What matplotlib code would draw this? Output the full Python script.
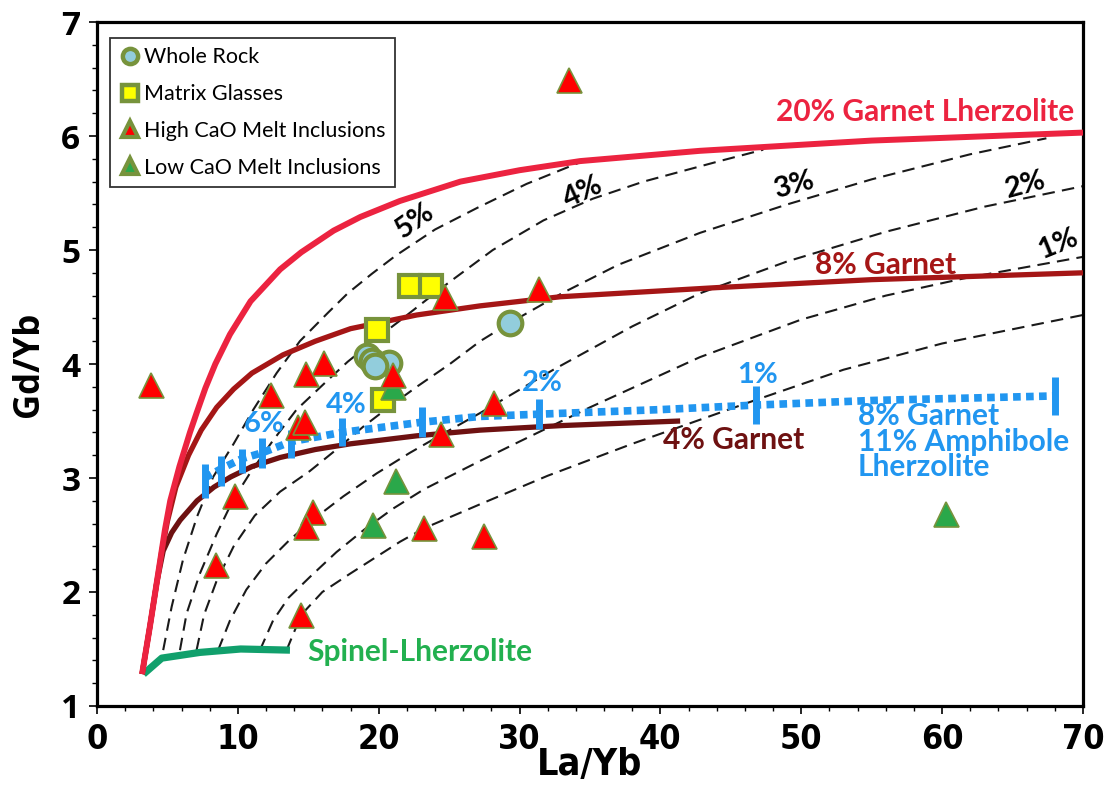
import matplotlib
matplotlib.use('Agg')
import matplotlib.pyplot as plt
import matplotlib.font_manager as fm
from matplotlib.font_manager import FontProperties
from matplotlib.lines import Line2D
from matplotlib.ticker import MultipleLocator

# ---------------- data ----------------
garnet20_x = [3.2, 3.76, 4.24, 4.83, 5.2, 5.85, 6.6, 7.07, 7.7, 8.4, 9.44, 10.9, 13.0, 14.5, 16.8, 18.7, 21.5, 25.8, 30.0, 34.3, 42.8, 55.0, 70.0]
garnet20_y = [1.28, 1.70, 2.08, 2.55, 2.80, 3.10, 3.40, 3.57, 3.79, 4.00, 4.26, 4.55, 4.83, 4.98, 5.17, 5.29, 5.43, 5.60, 5.70, 5.78, 5.87, 5.96, 6.03]

garnet8_x = [3.2, 3.76, 4.24, 4.6, 5.0, 5.6, 6.5, 7.4, 8.5, 9.7, 11.0, 13.2, 15.5, 18.0, 22.7, 27.2, 32.9, 44.0, 55.0, 70.0]
garnet8_y = [1.28, 1.70, 2.08, 2.36, 2.62, 2.92, 3.20, 3.42, 3.62, 3.78, 3.92, 4.08, 4.20, 4.31, 4.43, 4.51, 4.59, 4.67, 4.74, 4.80]

garnet4_x = [3.2, 3.76, 4.24, 4.7, 5.3, 5.9, 7.1, 8.3, 9.5, 11.0, 13.0, 15.5, 18.0, 22.7, 27.2, 33.0, 41.4]
garnet4_y = [1.28, 1.70, 2.08, 2.36, 2.52, 2.63, 2.80, 2.92, 3.01, 3.10, 3.18, 3.25, 3.30, 3.37, 3.42, 3.46, 3.50]

spinel_x = [3.3, 4.6, 7.3, 10.2, 13.7]
spinel_y = [1.28, 1.42, 1.47, 1.50, 1.49]

amph_x = [7.65, 8.8, 10.3, 11.7, 13.8, 17.4, 23.1, 27.2, 31.4, 40.0, 46.8, 55.0, 68.0]
amph_y = [3.00, 3.08, 3.17, 3.22, 3.32, 3.40, 3.49, 3.54, 3.56, 3.60, 3.64, 3.68, 3.72]
amph_tick_x = [7.65, 8.8, 10.3, 11.7, 13.8, 17.4, 23.1, 31.4, 46.8, 68.0]
amph_tick_y = [2.97, 3.06, 3.15, 3.22, 3.30, 3.40, 3.49, 3.56, 3.64, 3.72]
amph_tick_len = [24, 21, 17, 21, 20, 20, 21, 21, 27, 28]
amph_pct_labels = ['6%', '4%', '2%', '1%']
amph_pct_x = [11.85, 17.7, 31.6, 46.9]
amph_pct_y = [3.47, 3.64, 3.83, 3.90]

melt5_x = [4.7, 5.3, 6.1, 7.1, 8.25, 9.7, 11.1, 12.75, 14.4, 16.4, 17.8, 19.5, 21.2, 24.0, 27.0, 30.5, 34.3]
melt5_y = [1.49, 1.87, 2.28, 2.66, 3.01, 3.30, 3.60, 3.92, 4.20, 4.45, 4.62, 4.79, 4.95, 5.18, 5.37, 5.58, 5.77]
melt4_x = [5.89, 6.36, 7.3, 8.5, 9.67, 10.85, 12.5, 14.17, 16.4, 17.8, 19.6, 21.5, 24.6, 28.1, 31.7, 35.2, 38.8, 44.2, 47.3]
melt4_y = [1.49, 1.81, 2.16, 2.51, 2.81, 3.04, 3.33, 3.60, 3.86, 4.02, 4.20, 4.38, 4.68, 5.00, 5.26, 5.45, 5.60, 5.78, 5.88]
melt3_x = [7.07, 7.6, 8.5, 9.7, 11.2, 13.0, 15.1, 17.0, 18.9, 20.8, 22.7, 25.05, 27.2, 29.3, 33.0, 37.0, 42.8, 49.0, 55.0, 62.0, 67.4]
melt3_y = [1.49, 1.80, 2.10, 2.40, 2.67, 2.88, 3.06, 3.25, 3.45, 3.63, 3.80, 4.00, 4.20, 4.36, 4.62, 4.87, 5.15, 5.40, 5.62, 5.84, 5.98]
melt2_x = [8.6, 9.44, 10.6, 12.0, 13.7, 15.6, 17.5, 19.85, 22.2, 24.6, 27.2, 32.4, 38.0, 42.8, 49.0, 56.0, 63.0, 70.0]
melt2_y = [1.49, 1.75, 2.02, 2.25, 2.46, 2.66, 2.84, 3.04, 3.22, 3.39, 3.57, 3.95, 4.33, 4.62, 4.90, 5.16, 5.38, 5.56]
melt1_x = [11.57, 12.5, 13.6, 15.1, 17.0, 19.0, 21.0, 23.2, 27.2, 30.0, 35.0, 42.8, 50.0, 56.0, 61.5, 70.0]
melt1_y = [1.49, 1.75, 1.95, 2.13, 2.35, 2.55, 2.73, 2.90, 3.15, 3.32, 3.62, 4.06, 4.39, 4.60, 4.75, 4.94]
melt05_x = [13.46, 14.5, 16.0, 17.96, 21.5, 23.24, 27.2, 32.0, 38.0, 46.2, 53.0, 60.0, 70.0]
melt05_y = [1.49, 1.80, 2.00, 2.16, 2.44, 2.56, 2.77, 3.02, 3.30, 3.66, 3.95, 4.18, 4.43]
melt_labels = ['5%', '4%', '3%', '2%', '1%']
melt_label_x = [22.6, 34.5, 49.5, 65.9, 68.2]
melt_label_y = [5.26, 5.51, 5.57, 5.57, 5.05]
melt_label_rot = [35, 25, 15, 15, 22]

whole_rock_x = [19.2, 20.7, 19.5, 19.75, 29.3]
whole_rock_y = [4.07, 4.01, 4.03, 3.98, 4.36]
matrix_x = [22.2, 23.7, 19.9, 20.3]
matrix_y = [4.68, 4.68, 4.30, 3.68]
high_cao_x = [3.8, 33.5, 24.7, 31.4, 16.15, 14.86, 12.38, 21.0, 28.2, 14.26, 14.74, 24.42, 9.78, 8.48, 15.33, 14.86, 23.24, 27.49, 14.5]
high_cao_y = [3.82, 6.49, 4.59, 4.66, 4.01, 3.91, 3.73, 3.90, 3.66, 3.45, 3.49, 3.39, 2.84, 2.24, 2.70, 2.57, 2.56, 2.49, 1.80]
low_cao_x = [21.0, 21.23, 19.58, 60.3]
low_cao_y = [3.80, 2.97, 2.59, 2.68]

# ---------------- style ----------------
C20 = '#EC2340'
C8 = '#A51616'
C4 = '#6E1111'
CSP = '#11A06C'
CSP_T = '#22B04F'
CBL = '#2196F0'
OLIVE = '#77933C'
LBLUE = '#92CDDC'
YEL = '#FFFF00'
RED = '#FF0000'
GRN = '#2AA84A'

FONT = ['Lato', 'DejaVu Sans']


def pick_narrow():
    cands = [('Liberation Sans Narrow', 'normal'), ('DejaVu Sans', 'condensed'),
             ('Roboto Condensed', 'normal')]
    for fam, st in cands:
        try:
            path = fm.findfont(FontProperties(family=fam, stretch=st, weight='bold'),
                               fallback_to_default=False)
        except Exception:
            continue
        low = path.lower()
        if 'narrow' in low or 'condensed' in low:
            return FontProperties(fname=path)
    return None


narrow_fp = pick_narrow()

fig = plt.figure(figsize=(11.11, 7.89), dpi=100)
ax = fig.add_axes([0.0873, 0.1052, 0.8875, 0.8669])
ax.set_xlim(0, 70)
ax.set_ylim(1, 7)

dash = (0, (6, 3.5))
for xs, ys in [(melt5_x, melt5_y), (melt4_x, melt4_y), (melt3_x, melt3_y),
               (melt2_x, melt2_y), (melt1_x, melt1_y), (melt05_x, melt05_y)]:
    ax.plot(xs, ys, color='#1a1a1a', lw=1.5, ls=dash, zorder=2)

ax.plot(spinel_x, spinel_y, color=CSP, lw=5.2, solid_capstyle='butt', zorder=3)
ax.plot(garnet4_x, garnet4_y, color=C4, lw=3.8, solid_capstyle='butt', zorder=3)
ax.plot(garnet8_x, garnet8_y, color=C8, lw=3.8, solid_capstyle='butt', zorder=3.1)
ax.plot(garnet20_x, garnet20_y, color=C20, lw=4.3, solid_capstyle='butt', zorder=3.2)

ax.plot(amph_x, amph_y, color=CBL, lw=5.5, ls=(0, (1, 0.7)), dash_capstyle='butt', zorder=4)
for tx, ty, tl in zip(amph_tick_x, amph_tick_y, amph_tick_len):
    ax.plot([tx], [ty], marker='|', ms=tl, mew=5, color=CBL, zorder=4)
for lab, lx, ly in zip(amph_pct_labels, amph_pct_x, amph_pct_y):
    ax.text(lx, ly, lab, color=CBL, fontsize=21, fontweight='bold', family=FONT,
            ha='center', va='center', zorder=5)

for lab, lx, ly, rot in zip(melt_labels, melt_label_x, melt_label_y, melt_label_rot):
    ax.text(lx, ly, lab, color='black', fontsize=21, fontweight='bold', family=FONT,
            ha='center', va='center', rotation=rot, zorder=5)

ax.text(69.4, 6.21, '20% Garnet Lherzolite', color=C20, fontsize=21.5, fontweight='bold',
        family=FONT, ha='right', va='center', zorder=5)
ax.text(51.0, 4.87, '8% Garnet', color=C8, fontsize=21.5, fontweight='bold',
        family=FONT, ha='left', va='center', zorder=5)
ax.text(40.2, 3.33, '4% Garnet', color=C4, fontsize=21.5, fontweight='bold',
        family=FONT, ha='left', va='center', zorder=5)
ax.text(14.9, 1.47, 'Spinel-Lherzolite', color=CSP_T, fontsize=21.5, fontweight='bold',
        family=FONT, ha='left', va='center', zorder=5)
ax.text(54.0, 3.32, '8% Garnet\n11% Amphibole\nLherzolite', color=CBL, fontsize=21.5,
        fontweight='bold', family=FONT, ha='left', va='center', linespacing=0.88, zorder=5)

# data points
ax.plot(whole_rock_x, whole_rock_y, 'o', ms=17, mfc=LBLUE, mec=OLIVE, mew=3, ls='none', zorder=6)
ax.plot(matrix_x, matrix_y, 's', ms=16.5, mfc=YEL, mec=OLIVE, mew=3, ls='none', zorder=6.1)
ax.plot(low_cao_x, low_cao_y, '^', ms=18, mfc=GRN, mec=OLIVE, mew=1.2, ls='none', zorder=6.2)
ax.plot(high_cao_x, high_cao_y, '^', ms=18, mfc=RED, mec=OLIVE, mew=1.2, ls='none', zorder=6.3)

# legend
handles = [
    Line2D([], [], marker='o', ls='none', ms=11, mfc=LBLUE, mec=OLIVE, mew=3.2),
    Line2D([], [], marker='s', ls='none', ms=11, mfc=YEL, mec=OLIVE, mew=3.2),
    Line2D([], [], marker='^', ls='none', ms=12, mfc=RED, mec=OLIVE, mew=3.0),
    Line2D([], [], marker='^', ls='none', ms=12, mfc=GRN, mec=OLIVE, mew=3.0),
]
labels = ['Whole Rock', 'Matrix Glasses', 'High CaO Melt Inclusions', 'Low CaO Melt Inclusions']
leg = ax.legend(handles, labels, loc='upper left', bbox_to_anchor=(0.013, 0.977),
                prop={'family': FONT, 'size': 15.5}, frameon=True, fancybox=False,
                edgecolor='black', borderpad=0.45, labelspacing=0.78, handletextpad=0.15,
                handlelength=1.0, borderaxespad=0)
leg.get_frame().set_linewidth(1.3)
leg.set_zorder(7)

# axes styling
for s in ax.spines.values():
    s.set_linewidth(2.3)
    s.set_color('black')
ax.xaxis.set_major_locator(MultipleLocator(10))
ax.xaxis.set_minor_locator(MultipleLocator(2))
ax.yaxis.set_major_locator(MultipleLocator(1))
ax.yaxis.set_minor_locator(MultipleLocator(0.2))
ax.tick_params(which='major', direction='out', length=6, width=1.2, top=False, right=False)
ax.tick_params(which='minor', direction='out', length=3.5, width=1.0, top=False, right=False)
ax.tick_params(axis='x', which='major', pad=6)
ax.tick_params(axis='y', which='major', pad=6)

for t in ax.get_xticklabels():
    if narrow_fp is not None:
        t.set_fontproperties(narrow_fp)
    else:
        t.set_family(FONT)
    t.set_fontweight('bold')
    t.set_fontsize(24.5)
for t in ax.get_yticklabels():
    t.set_family(['Open Sans', 'DejaVu Sans'])
    t.set_fontweight('bold')
    t.set_fontsize(24)

xl = ax.set_xlabel('La/Yb', fontweight='bold', fontsize=27)
if narrow_fp is not None:
    xl.set_fontproperties(narrow_fp)
    xl.set_fontsize(27)
    xl.set_fontweight('bold')
else:
    xl.set_family(FONT)
ax.xaxis.set_label_coords(0.5, -0.086)
xl.set_va('center')
ax.set_ylabel('Gd/Yb', family=['Open Sans', 'DejaVu Sans'], fontweight='bold', fontsize=25, labelpad=10)

fig.savefig('out.png', dpi=100)
